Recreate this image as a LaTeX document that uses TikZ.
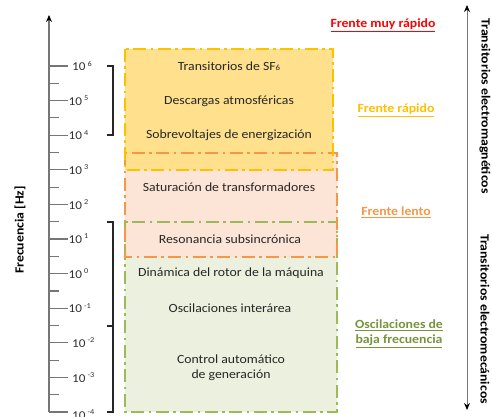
\documentclass[tikz,border=0pt]{standalone}
\usepackage{fontspec}
\setmainfont[FakeStretch=1.1]{Carlito}
\usetikzlibrary{arrows.meta}
\definecolor{yfill}{HTML}{FFE08C}
\definecolor{yline}{HTML}{FFC000}
\definecolor{pfill}{HTML}{FCE4D6}
\definecolor{pline}{HTML}{F79646}
\definecolor{gfill}{HTML}{EBF1DE}
\definecolor{gline}{HTML}{9BBB59}
\definecolor{gtext}{HTML}{77933C}
\definecolor{axgray}{HTML}{767676}
\definecolor{lblgray}{HTML}{303030}
\tikzset{
  axisline/.style={draw=axgray, line width=1.4pt},
  tick/.style={draw=axgray, line width=1.2pt},
  bracket/.style={draw=black!85, line width=1.3pt},
  dashdot/.style={line width=1.8pt, dash pattern=on 13pt off 4.5pt on 2.5pt off 4.5pt},
  boxtext/.style={font=\fontsize{12.5}{14}\selectfont, text=black!85, inner sep=0pt},
  ticklabel/.style={font=\fontsize{12}{13}\selectfont, text=lblgray, anchor=west, inner sep=0pt},
  sidelabel/.style={font=\bfseries\fontsize{12.5}{15}\selectfont, inner sep=0pt, align=center},
  rotlabel/.style={font=\bfseries\fontsize{12.5}{14}\selectfont, text=black, inner sep=0pt},
}
\newcommand{\ex}[1]{\,{\fontsize{7.5}{7.5}\selectfont\raisebox{4.8pt}{#1}}}
\begin{document}
\begin{tikzpicture}[x=1pt,y=-1pt]
\useasboundingbox (0,0) rectangle (492,417);

% box fills
\fill[gfill] (125,222) rectangle (337,412);
\fill[pfill] (125,153) rectangle (337,257);
\fill[yfill] (125,49) rectangle (333,170);
% box borders
\draw[dashdot, draw=gline] (125,222) rectangle (337,412);
\draw[dashdot, draw=pline] (125,153) rectangle (337,257);
\draw[dashdot, draw=yline] (125,49) rectangle (333,170);

% axis
\coordinate (abot) at (49,412);
\coordinate (atop) at (49,15);
\draw[axisline, -{Stealth[length=7pt,width=6pt,color=black]}] (abot) -- (atop);
\foreach \i in {0,...,10} {
  \draw[tick] (49,66+34.6*\i) -- (68,66+34.6*\i);
}
\foreach \i in {0,...,9} {
  \draw[tick] (49,83.3+34.6*\i) -- (59,83.3+34.6*\i);
}
\node[ticklabel] (l6) at (72,66) {10\ex{6}};
\node[ticklabel] (l5) at (68.5,100.6) {10\ex{5}};
\node[ticklabel] (l4) at (68.5,135.2) {10\ex{4}};
\node[ticklabel] (l3) at (68.5,169.8) {10\ex{3}};
\node[ticklabel] (l2) at (68.5,204.4) {10\ex{2}};
\node[ticklabel] (l1) at (68.5,239) {10\ex{1}};
\node[ticklabel] (l0) at (68.5,273.6) {10\ex{0}};
\node[ticklabel] (lm1) at (68.5,308.2) {10\ex{-1}};
\node[ticklabel] (lm2) at (72,342.8) {10\ex{-2}};
\node[ticklabel] (lm3) at (72,377.4) {10\ex{-3}};
\node[ticklabel] (lm4) at (72,414.5) {10\ex{-4}};

% brackets
\draw[bracket] (107,66) -- (113,66) -- (113,135) -- (107,135);
\draw[bracket] (107,222) -- (113,222) -- (113,412) -- (107,412);
\draw[bracket] (113,326) -- (107,326);

% box texts
\node[boxtext] (t1) at (229,66) {Transitorios de SF{\fontsize{8}{8}\selectfont 6}};
\node[boxtext] (t2) at (229,101) {Descargas atmosféricas};
\node[boxtext] (t3) at (229,135) {Sobrevoltajes de energización};
\node[boxtext] (t4) at (229,187) {Saturación de transformadores};
\node[boxtext] (t5) at (230,239) {Resonancia subsincrónica};
\node[boxtext] (t6) at (231,273) {Dinámica del rotor de la máquina};
\node[boxtext] (t7) at (230,308) {Oscilaciones interárea};
\node[boxtext, align=center] (t8) at (231,367.5) {Control automático\\[1.5pt]de generación};

% side labels
\node[sidelabel, text=red] (s1) at (383,25) {\underline{Frente muy rápido}};
\node[sidelabel, text=yline] (s2) at (396,110) {\underline{Frente rápido}};
\node[sidelabel, text=pline] (s3) at (396,212) {\underline{Frente lento}};
\node[sidelabel, text=gtext] (s4) at (399,334) {\underline{Oscilaciones de}\\\underline{baja frecuencia}};

% right arrow
\coordinate (rtop) at (467,5);
\coordinate (rbot) at (467,410);
\draw[draw=axgray, line width=1pt, {Stealth[length=7pt,width=6pt,color=black]}-{Stealth[length=7pt,width=6pt,color=black]}] (rbot) -- (rtop);
\node[rotlabel, rotate=-90] (r1) at (485,106) {Transitorios electromagnéticos};
\node[rotlabel, rotate=-90] (r2) at (485,319) {Transitorios electromecánicos};
\node[rotlabel, rotate=90] (fq) at (20,230) {Frecuencia [Hz]};
\end{tikzpicture}
\end{document}
